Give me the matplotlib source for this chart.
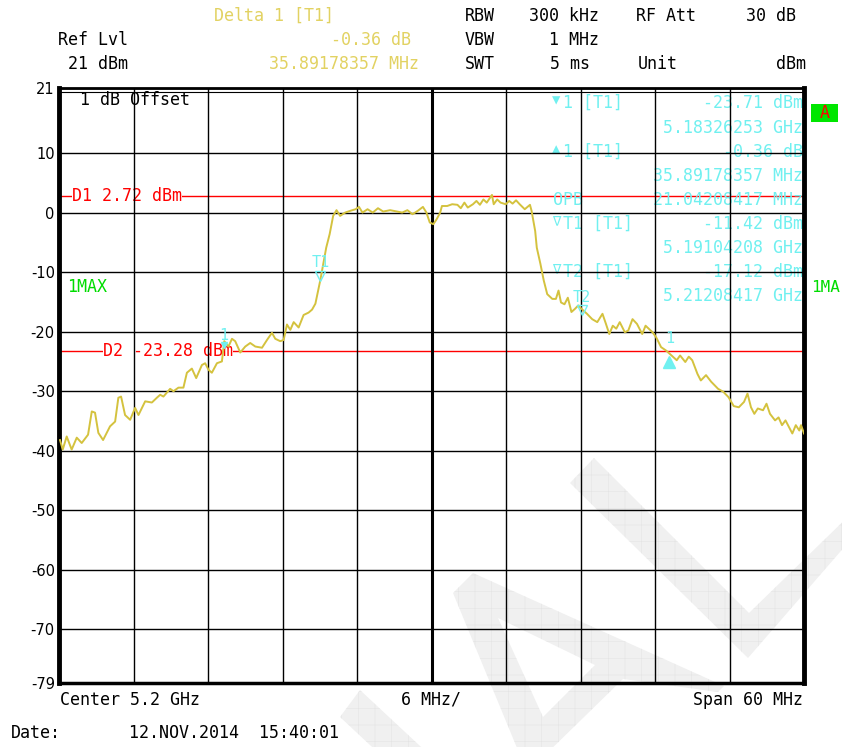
import numpy as np
import matplotlib
matplotlib.use("Agg")
import matplotlib.pyplot as plt
from matplotlib.patches import Polygon, PathPatch, Rectangle
from matplotlib.path import Path
from matplotlib.transforms import offset_copy

# ---------------- data ----------------
center_ghz = 5.2
span_mhz = 60

# trace: frequency offset from center (MHz) and level (dBm)
freq_mhz = [-29.92, -29.70, -29.38, -28.98, -28.57, -28.17, -27.66, -27.36, -27.10, -26.83,
            -26.45, -25.89, -25.48, -25.22, -25.00, -24.68, -24.27, -23.87, -23.60, -23.06,
            -22.52, -22.12, -21.85, -21.59, -21.05, -20.78, -20.38, -19.98, -19.70, -19.30,
            -18.95, -18.49, -18.23, -17.96, -17.69, -17.28, -16.88, -16.69, -16.35, -16.07,
            -15.81, -15.40, -15.00, -14.60, -14.19, -13.65, -13.25, -12.85, -12.58, -12.18,
            -11.91, -11.64, -11.37, -11.10, -10.70, -10.30, -9.90, -9.62, -9.35, -8.95,
            -8.48, -8.20, -7.92, -7.65, -7.36, -6.95, -6.53, -6.11, -5.84, -5.56,
            -5.15, -4.73, -4.31, -3.89, -3.33, -2.77, -2.36, -1.94, -1.53, -1.11,
            -0.69, -0.41, -0.14, 0.15, 0.42, 0.70, 0.84, 1.26, 1.67, 2.09,
            2.36, 2.65, 2.92, 3.34, 3.62, 3.90, 4.18, 4.45, 4.87, 5.01,
            5.29, 5.56, 5.98, 6.26, 6.53, 6.81, 7.10, 7.51, 7.93, 8.06,
            8.35, 8.48, 8.77, 9.04, 9.32, 9.73, 10.02, 10.23, 10.43, 10.71,
            10.98, 11.27, 11.54, 11.82, 12.10, 12.52, 12.94, 13.35, 13.77, 14.05,
            14.32, 14.60, 14.88, 15.16, 15.57, 15.85, 16.19, 16.55, 16.97, 17.24,
            17.80, 18.08, 18.49, 18.91, 19.33, 19.75, 20.02, 20.44, 20.72, 21.00,
            21.42, 21.69, 22.11, 22.52, 23.08, 23.50, 23.92, 24.34, 24.75, 25.17,
            25.45, 25.73, 26.00, 26.28, 26.70, 26.98, 27.26, 27.67, 27.95, 28.23,
            28.51, 28.78, 29.06, 29.34, 29.62, 29.76, 30.00]
level_dbm = [-38.2, -39.8, -37.6, -39.8, -37.8, -38.7, -37.3, -33.4, -33.6, -37.0,
             -38.2, -35.9, -35.1, -31.1, -30.9, -34.0, -34.8, -32.8, -34.0, -31.7,
             -31.9, -31.1, -30.6, -30.9, -29.6, -30.0, -29.4, -29.4, -26.9, -26.2,
             -27.8, -25.6, -25.3, -26.4, -26.9, -25.3, -25.0, -21.6, -22.5, -21.2,
             -21.6, -23.5, -22.5, -21.9, -22.5, -22.7, -21.4, -20.2, -21.2, -21.6,
             -21.4, -18.8, -19.7, -18.4, -19.3, -17.2, -16.8, -16.3, -15.3, -11.3,
             -5.9, -3.6, -0.56, 0.4, -0.56, 0.0, 0.3, 0.56, 0.95, 0.0,
             0.56, 0.0, 0.73, 0.17, 0.4, 0.17, 0.0, 0.4, -0.28, 0.28,
             0.95, 0.0, -1.67, -1.95, -1.1, 0.0, 1.1, 1.1, 1.4, 1.3,
             0.73, 1.67, 0.84, 1.4, 1.95, 1.3, 2.2, 1.67, 2.96, 1.4,
             2.2, 1.67, 1.4, 1.95, 1.5, 2.06, 1.4, 0.56, 1.3, 0.28,
             -3.1, -5.9, -8.6, -11.4, -13.7, -14.5, -14.5, -13.1, -15.1, -15.4,
             -14.3, -16.7, -16.2, -15.6, -16.2, -17.0, -17.9, -18.4, -17.0, -18.7,
             -20.4, -19.0, -19.5, -18.4, -20.1, -19.8, -17.9, -18.7, -20.4, -19.0,
             -20.1, -20.9, -22.6, -23.2, -24.0, -24.8, -24.0, -25.1, -24.2, -24.8,
             -27.1, -28.2, -27.3, -28.4, -29.6, -30.1, -31.0, -32.5, -32.7, -31.8,
             -30.4, -32.7, -33.8, -32.9, -33.2, -32.1, -33.8, -34.9, -34.4, -35.7,
             -34.9, -36.0, -37.1, -35.7, -36.6, -35.7, -37.1]

y_ticks = [21, 10, 0, -10, -20, -30, -40, -50, -60, -70, -79]

d1_dbm = 2.72
d2_dbm = -23.28

marker1_ghz = 5.18326253
marker1_dbm = -23.71
delta1_mhz = 35.89178357
delta1_db = -0.36
opb_mhz = 21.04208417
t1_ghz = 5.19104208
t1_dbm = -11.42
t2_ghz = 5.21208417
t2_dbm = -17.12

# ---------------- style ----------------
plt.rcParams['font.family'] = ['DejaVu Sans Mono', 'DejaVu Sans']
plt.rcParams['hatch.linewidth'] = 0.4

TRACE = '#d4c23e'
HEAD_YEL = '#e2d262'
CYAN = '#70f0f0'
GREEN = '#00dc00'

W, H = 842, 747
fig = plt.figure(figsize=(W / 100, H / 100), dpi=100)


def fx(x):
    return x / W


def fy(y):
    return 1 - y / H


# ---------------- watermark ----------------
def wm(pts):
    return [(fx(x), fy(y)) for x, y in pts]


wm_kw = dict(transform=fig.transFigure, fc='#f0f0f0', ec='#e4e4e4', lw=0, hatch='+', zorder=-1)
fig.add_artist(Polygon(wm([(340, 717), (360, 690), (435, 760), (386, 760)]), **wm_kw))
fig.add_artist(Polygon(wm([(570, 483), (594, 458), (749, 613), (860, 505), (860, 529), (748, 658)]), **wm_kw))
outer = wm([(453, 593), (473, 573), (724, 686), (718, 692), (623, 679), (540, 760), (522, 760), (453, 593)])
hole = wm([(498, 618), (543, 717), (595, 665), (498, 618)])
codes = [Path.MOVETO] + [Path.LINETO] * (len(outer) - 2) + [Path.CLOSEPOLY]
codes += [Path.MOVETO] + [Path.LINETO] * (len(hole) - 2) + [Path.CLOSEPOLY]
fig.add_artist(PathPatch(Path(outer + hole, codes), **wm_kw))

# ---------------- axes ----------------
ax = fig.add_axes([fx(59), fy(683), (804 - 59) / W, (683 - 87.5) / H])
ax.set_facecolor('none')
ax.set_xlim(-span_mhz / 2, span_mhz / 2)
ax.set_ylim(y_ticks[-1], y_ticks[0])
ax.set_xticks(np.arange(-30, 31, 6))
ax.set_xticklabels([])
ax.set_yticks(y_ticks)
ax.set_yticklabels([str(v) for v in y_ticks], family='DejaVu Sans', fontsize=10.5)
ax.tick_params(length=0, pad=3)
ax.grid(True, color='black', lw=1.0)
ax.set_axisbelow(False)
ax.axvline(0, color='black', lw=2.2, zorder=2.6)
ax.axhline(20.2, color='black', lw=0.8, zorder=2.6)
for side, lw in [('left', 3.5), ('right', 3.5), ('top', 2.0), ('bottom', 2.5)]:
    ax.spines[side].set_linewidth(lw)
    ax.spines[side].set_zorder(3)

# trace
ax.plot(freq_mhz, level_dbm, color=TRACE, lw=1.4, zorder=4)

# display lines
ax.axhline(d1_dbm, color='red', lw=1.0, zorder=1.5)
ax.axhline(d2_dbm, color='red', lw=1.0, zorder=1.5)
ax.text(-28.95, d1_dbm, f'D1 {d1_dbm:.2f} dBm', color='red', fontsize=12, va='center', ha='left',
        zorder=2, bbox=dict(fc='white', ec='none', pad=0.3))
ax.text(-26.45, d2_dbm, f'D2 {d2_dbm:.2f} dBm', color='red', fontsize=12, va='center', ha='left',
        zorder=2, bbox=dict(fc='white', ec='none', pad=0.3))

# markers on trace
def up(px):
    return offset_copy(ax.transData, fig=fig, y=px, units='dots')


m1_x = (marker1_ghz - center_ghz) * 1000
dl_x = m1_x + delta1_mhz
dl_y = marker1_dbm + delta1_db
t1_x = (t1_ghz - center_ghz) * 1000
t2_x = (t2_ghz - center_ghz) * 1000

ax.plot(t1_x, t1_dbm, marker='v', ms=7, mfc='none', mec=CYAN, mew=1.0, transform=up(5), zorder=5)
ax.text(t1_x, t1_dbm, 'T1', color=CYAN, fontsize=11, ha='center', va='center', transform=up(18), zorder=5)
ax.plot(t2_x, t2_dbm, marker='v', ms=7, mfc='none', mec=CYAN, mew=1.0, transform=up(5), zorder=5)
ax.text(t2_x, t2_dbm, 'T2', color=CYAN, fontsize=11, ha='center', va='center', transform=up(17), zorder=5)
ax.plot(m1_x, marker1_dbm, marker='v', ms=5, color=CYAN, transform=up(9), zorder=5)
ax.text(m1_x, marker1_dbm, '1', color=CYAN, fontsize=11, ha='center', va='center', transform=up(18), zorder=5)
ax.plot(dl_x, dl_y, marker='^', ms=9, color=CYAN, transform=up(-6), zorder=5)
ax.text(dl_x, dl_y, '1', color=CYAN, fontsize=11, ha='center', va='center', transform=up(17), zorder=5)

# in-graph labels (figure positions, under the grid)
def gtext(x, y, s, **kw):
    kw.setdefault('fontsize', 12)
    kw.setdefault('va', 'center')
    ax.text(fx(x), fy(y), s, transform=fig.transFigure, zorder=2, **kw)


gtext(80, 100, '1 dB Offset', color='black')
gtext(67, 287, '1MAX', color=GREEN)

list_left = [(103, '1 [T1]', '▼'), (152, '1 [T1]', '▲'), (200, 'OPB', ''),
             (224, 'T1 [T1]', '∇'), (272, 'T2 [T1]', '∇')]
for y, s, sym in list_left:
    if sym:
        gtext(552, y - 3, sym, color=CYAN, fontsize=10)
        gtext(563, y, s, color=CYAN)
    else:
        gtext(553, y, s, color=CYAN)

list_right = [(103, f'{marker1_dbm:.2f} dBm'), (128, f'{marker1_ghz:.8f} GHz'),
              (152, f'{delta1_db:.2f} dB'), (176, f'{delta1_mhz:.8f} MHz'),
              (200, f'{opb_mhz:.8f} MHz'), (224, f'{t1_dbm:.2f} dBm'),
              (248, f'{t1_ghz:.8f} GHz'), (272, f'{t2_dbm:.2f} dBm'),
              (296, f'{t2_ghz:.8f} GHz')]
for y, s in list_right:
    gtext(803, y, s, color=CYAN, ha='right')

# ---------------- header / footer ----------------
def ftext(x, y, s, **kw):
    kw.setdefault('fontsize', 12)
    kw.setdefault('va', 'center')
    fig.text(fx(x), fy(y), s, **kw)


ftext(214, 16, 'Delta 1 [T1]', color=HEAD_YEL)
ftext(411, 40, f'{delta1_db:.2f} dB', color=HEAD_YEL, ha='right')
ftext(419, 64, f'{delta1_mhz:.8f} MHz', color=HEAD_YEL, ha='right')
ftext(58, 40, 'Ref Lvl')
ftext(68, 64, f'{y_ticks[0]} dBm')
ftext(465, 16, 'RBW')
ftext(599, 16, '300 kHz', ha='right')
ftext(636, 16, 'RF Att')
ftext(796, 16, '30 dB', ha='right')
ftext(465, 40, 'VBW')
ftext(599, 40, '1 MHz', ha='right')
ftext(465, 64, 'SWT')
ftext(590, 64, '5 ms', ha='right')
ftext(638, 64, 'Unit')
ftext(806, 64, 'dBm', ha='right')

ftext(60, 700, f'Center {center_ghz:g} GHz')
ftext(431, 700, f'{span_mhz / 10:g} MHz/', ha='center')
ftext(803, 700, f'Span {span_mhz} MHz', ha='right')
ftext(11, 733, 'Date:')
ftext(129, 733, '12.NOV.2014  15:40:01')

# "A" box and trace label at right edge
fig.add_artist(Rectangle((fx(811), fy(122)), 27 / W, 18 / H, transform=fig.transFigure,
                         fc='#00e600', ec='none'))
ftext(824.5, 113, 'A', color='red', ha='center')
ftext(811, 287, '1MA', color=GREEN, fontsize=11.5)

fig.savefig('out.png', dpi=100)
